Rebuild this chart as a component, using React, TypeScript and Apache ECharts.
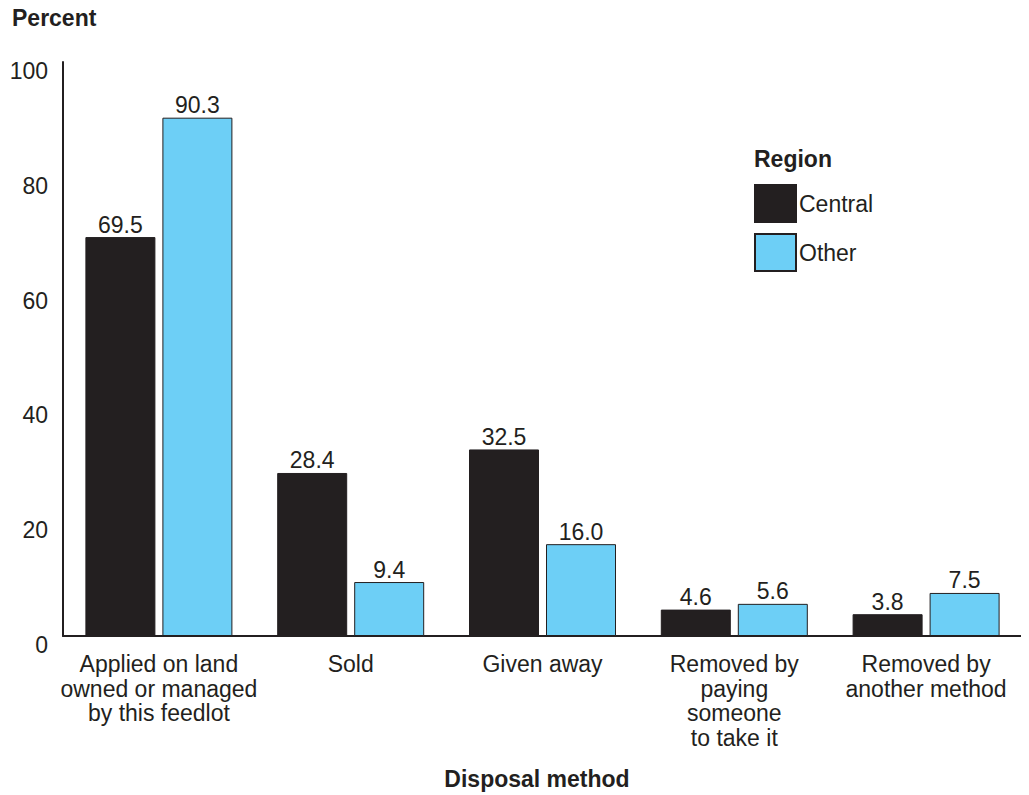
import React, { useEffect, useRef } from "react";
import * as echarts from "echarts";

const categories = [
  "Applied on land\nowned or managed\nby this feedlot",
  "Sold",
  "Given away",
  "Removed by\npaying\nsomeone\nto take it",
  "Removed by\nanother method",
];
const centralValues = [69.5, 28.4, 32.5, 4.6, 3.8];
const otherValues = [90.3, 9.4, 16.0, 5.6, 7.5];
const yTicks = [0, 20, 40, 60, 80, 100];

const FONT = "'Liberation Sans', Arial, Helvetica, sans-serif";
const FS = 23;

export default function App() {
  const ref = useRef<HTMLDivElement>(null);
  useEffect(() => {
    if (!ref.current) return;
    const chart = echarts.init(ref.current, undefined, { renderer: "svg" });
    const labelStyle = {
      show: true,
      position: "top" as const,
      distance: 1,
      color: "#231f20",
      fontFamily: FONT,
      fontSize: FS,
      formatter: (p: any) => Number(p.value).toFixed(1),
    };
    chart.setOption({
      animation: false,
      textStyle: { fontFamily: FONT },
      grid: { left: 63, right: 7, top: 62, bottom: 159, containLabel: false },
      legend: {
        orient: "vertical",
        left: 754,
        top: 184,
        padding: 0,
        icon: "rect",
        itemWidth: 41,
        itemHeight: 37,
        itemGap: 10,
        textStyle: { fontFamily: FONT, fontSize: FS, color: "#231f20", padding: [0, 0, 0, -2] },
        data: ["Central", "Other"],
      },
      graphic: [
        {
          type: "text",
          left: 12,
          top: 6,
          style: { text: "Percent", font: `bold ${FS}px ${FONT}`, fill: "#231f20" },
        },
        {
          type: "text",
          left: 754,
          top: 147,
          style: { text: "Region", font: `bold ${FS}px ${FONT}`, fill: "#231f20" },
        },
        {
          type: "text",
          x: 537,
          y: 779,
          style: {
            text: "Disposal method",
            font: `bold ${FS}px ${FONT}`,
            fill: "#231f20",
            align: "center",
            verticalAlign: "middle",
          },
        },
      ],
      xAxis: {
        type: "category",
        data: categories,
        axisLine: { show: true, lineStyle: { color: "#231f20", width: 2 } },
        axisTick: { show: false },
        axisLabel: {
          color: "#231f20",
          fontFamily: FONT,
          fontSize: FS,
          lineHeight: 24.5,
          margin: 16,
          interval: 0,
          align: "center",
        },
      },
      yAxis: {
        type: "value",
        min: 0,
        max: 100,
        interval: 20,
        axisLine: { show: true, lineStyle: { color: "#231f20", width: 2 } },
        axisTick: { show: false },
        splitLine: { show: false },
        axisLabel: {
          color: "#231f20",
          fontFamily: FONT,
          fontSize: FS,
          margin: 15,
          verticalAlign: "top",
          lineHeight: 18,
          formatter: (v: number) => (yTicks.includes(v) ? String(v) : ""),
        },
      },
      series: [
        {
          name: "Central",
          type: "bar",
          data: centralValues,
          barWidth: 70,
          barGap: "10%",
          itemStyle: { color: "#231f20", borderColor: "#231f20", borderWidth: 1 },
          label: labelStyle,
        },
        {
          name: "Other",
          type: "bar",
          data: otherValues,
          barWidth: 70,
          barGap: "10%",
          itemStyle: { color: "#6dcff6", borderColor: "#231f20", borderWidth: 1 },
          label: labelStyle,
        },
      ],
    });
    return () => chart.dispose();
  }, []);
  return <div ref={ref} style={{ width: 1029, height: 795, marginLeft: -8, marginTop: -8 }} />;
}
